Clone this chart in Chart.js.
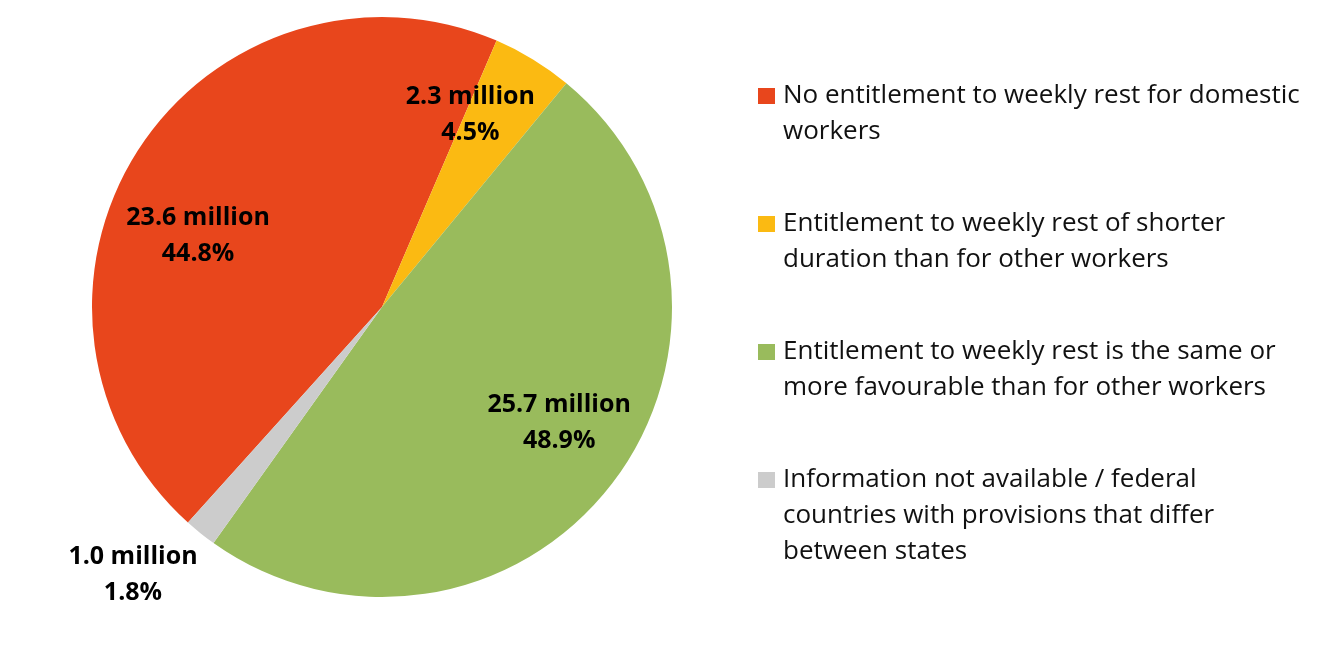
<!DOCTYPE html>
<html>
<head>
<meta charset="utf-8">
<script src="https://cdn.jsdelivr.net/npm/chart.js@4/dist/chart.umd.min.js"></script>
<style>
  html, body { margin: 0; padding: 0; background: #fff; }
  #wrap { width: 1336px; height: 664px; }
</style>
</head>
<body>
<div id="wrap"><canvas id="myChart" width="1336" height="664"></canvas></div>
<script>
// data
const categories = [
  ['No entitlement to weekly rest for domestic', 'workers'],
  ['Entitlement to weekly rest of shorter', 'duration than for other workers'],
  ['Entitlement to weekly rest is the same or', 'more favourable than for other workers'],
  ['Information not available / federal', 'countries with provisions that differ', 'between states']
];
const millions = [23.6, 2.3, 25.7, 1.0];
const percents = [44.8, 4.5, 48.9, 1.8];

const colors = ['#E8461C', '#FBBA12', '#99BB5C', '#CCCCCC'];
// label placement: [angle shift from slice middle (deg), radius fraction]
const labelPlace = [[-11.5, 0.68], [-6.7, 0.73], [-4.3, 0.73], [4.2, 1.26]];

const sliceLabels = {
  id: 'sliceLabels',
  afterDatasetsDraw(chart) {
    const ctx = chart.ctx;
    const arcs = chart.getDatasetMeta(0).data;
    ctx.save();
    ctx.font = 'bold 25px "Open Sans"';
    ctx.fillStyle = '#000';
    ctx.textAlign = 'center';
    ctx.textBaseline = 'middle';
    arcs.forEach((arc, i) => {
      const mid = (arc.startAngle + arc.endAngle) / 2 + labelPlace[i][0] * Math.PI / 180;
      const r = arc.outerRadius * labelPlace[i][1];
      const x = arc.x + Math.cos(mid) * r;
      const y = arc.y + Math.sin(mid) * r;
      ctx.fillText(millions[i].toFixed(1) + ' million', x, y - 18);
      ctx.fillText(percents[i].toFixed(1) + '%', x, y + 18);
    });
    ctx.restore();
  }
};

const sideLegend = {
  id: 'sideLegend',
  afterDraw(chart) {
    const ctx = chart.ctx;
    ctx.save();
    ctx.font = '26px "Open Sans"';
    ctx.textBaseline = 'middle';
    let y = 96;
    categories.forEach((lines, i) => {
      ctx.fillStyle = colors[i];
      ctx.fillRect(758, y - 8, 17, 16);
      ctx.fillStyle = '#111';
      lines.forEach((t, j) => ctx.fillText(t, 783, y + j * 36));
      y += lines.length * 36 + 56;
    });
    ctx.restore();
  }
};

new Chart(document.getElementById('myChart'), {
  type: 'pie',
  data: {
    labels: categories.map(l => l.join(' ')),
    datasets: [{
      data: percents,
      backgroundColor: colors,
      borderWidth: 0
    }]
  },
  options: {
    responsive: false,
    animation: false,
    rotation: 222,
    layout: { padding: { left: 92, right: 664, top: 17, bottom: 67 } },
    plugins: {
      legend: { display: false },
      tooltip: { enabled: false }
    }
  },
  plugins: [sliceLabels, sideLegend]
});
</script>
</body>
</html>
